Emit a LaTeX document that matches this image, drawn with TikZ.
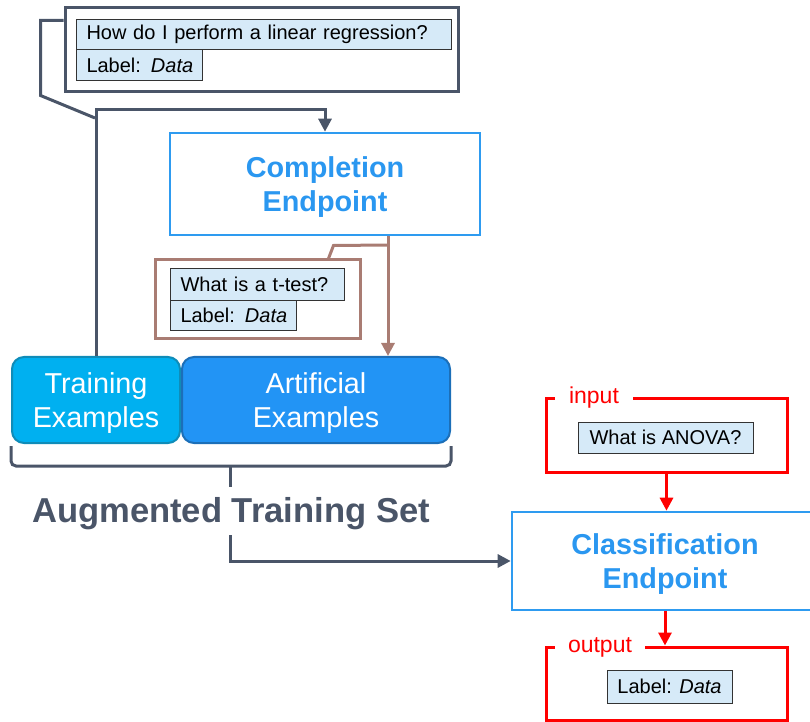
\documentclass[tikz,border=0pt]{standalone}
\usepackage{fontspec}
\setmainfont{Liberation Sans}
\usetikzlibrary{arrows.meta}
\definecolor{dk}{HTML}{4A5568}
\definecolor{qfill}{HTML}{D6EAF8}
\definecolor{qborder}{HTML}{333333}
\definecolor{bluetxt}{HTML}{2A97F0}
\definecolor{blueline}{HTML}{2E9BF0}
\definecolor{brn}{HTML}{A97C73}
\definecolor{trfill}{HTML}{00B0F0}
\definecolor{trline}{HTML}{0F8CB8}
\definecolor{arfill}{HTML}{2294F5}
\definecolor{arline}{HTML}{1C6FB8}
\definecolor{rd}{HTML}{FF0000}
\tikzset{
  tip/.style={-{Triangle[length=6.5pt,width=6.5pt]}},
  dkline/.style={draw=dk, line width=1.5pt},
  brnline/.style={draw=brn, line width=1.5pt},
  redline/.style={draw=rd, line width=1.5pt},
  qbox/.style={draw=qborder, fill=qfill, line width=0.5pt, font=\fontsize{10}{12}\selectfont,
    inner xsep=5pt, inner ysep=0pt, align=left},
  abox/.style={draw=qborder, fill=qfill, line width=0.5pt, font=\fontsize{10}{12}\selectfont,
    inner xsep=5pt, inner ysep=0pt, align=center},
  endpt/.style={draw=blueline, line width=1.3pt},
  endtxt/.style={text=bluetxt, align=center, yshift=-1.5pt,
    font=\fontsize{14.4}{17}\selectfont\bfseries},
  exbox/.style={rounded corners=6pt, line width=1pt},
  extxt/.style={text=white, align=center, yshift=-1.5pt,
    font=\fontsize{14.4}{17}\selectfont},
  redlab/.style={fill=white, text=rd, font=\fontsize{11.5}{13}\selectfont, inner ysep=1pt}
}
\begin{document}
\begin{tikzpicture}[x=0.5pt,y=-0.5pt]
\useasboundingbox (0,0) rectangle (810,722);

% top callout
\node[dkline, minimum width=196.5pt, minimum height=42pt, inner sep=0pt] (tq) at (261.5,50) {};
\node[qbox, text width=177.5pt, minimum height=15pt, anchor=north west] (q1) at (76,19) {How do I perform a linear regression?};
\node[qbox, text width=53pt, minimum height=15.5pt, anchor=north west] (q2) at (76,49) {\mbox{Label: \textit{Data}}};

% completion endpoint
\node[endpt, minimum width=155pt, minimum height=51pt,
  label={[endtxt]center:Completion\\Endpoint}] (comp) at (325,184) {};

% brown callout
\node[brnline, minimum width=102.5pt, minimum height=39.5pt, inner sep=0pt] (tb) at (257.5,299.5) {};
\node[qbox, text width=77pt, minimum height=16pt, anchor=north west] (t1) at (170,268) {What is a t-test?};
\node[qbox, text width=53pt, minimum height=15pt, anchor=north west] (t2) at (170,300) {\mbox{Label: \textit{Data}}};

% examples
\node[exbox, fill=trfill, draw=trline, minimum width=84pt, minimum height=43pt,
  label={[extxt]center:Training\\Examples}] (tr) at (96,400) {};
\node[exbox, fill=arfill, draw=arline, minimum width=134pt, minimum height=43pt,
  label={[extxt]center:Artificial\\Examples}] (art) at (316,400) {};

% coordinates
\coordinate (tl) at (95,110);
\coordinate (cp) at (95,118);
\coordinate (bx) at (388,0);
\coordinate (bc) at (388,245);
\coordinate (bm) at (230,465);
\coordinate (ac) at (230,535);

% connectors top
\draw[dkline, tip] (tr.north) -- (tr.north |- tl) -| (comp.north);
\draw[dkline] (tq.north west) ++(0,14) -- ++(-23,0) -- ++(0,75) -- (cp);

% brown connectors
\draw[brnline, tip] (comp.south -| bx) -- (art.north -| bx);
\draw[brnline] (tb.north east) ++(-33,0) -- ++(5,-13) -- (bc);

% brace
\draw[dkline, rounded corners=2.5pt] ([yshift=-1pt]tr.south west) -- ([yshift=-11pt]tr.south west) -- ([yshift=-11pt]art.south east) -- ([yshift=-1pt]art.south east);
\draw[dkline] (bm) -- ++(0,22);

\node[text=dk, font=\fontsize{17.3}{20}\selectfont\bfseries] (ats) at (231,514) {Augmented Training Set};

% classification
\node[endpt, minimum width=153pt, minimum height=49pt,
  label={[endtxt]center:Classification\\Endpoint}] (cls) at (665,561) {};
\draw[dkline, tip] (ac) |- (cls.west);

% input
\node[redline, minimum width=120.5pt, minimum height=37pt, inner sep=0pt] (inb) at (666.5,435) {};
\node[redlab, inner xsep=7pt] (inl) at (594,398) {input};
\node[abox, minimum width=87.5pt, minimum height=15.5pt] (anova) at (665.5,437.5) {What is ANOVA?};
\draw[redline, tip] (inb.south) -- (inb.south |- cls.north);

% output
\node[redline, minimum width=120.5pt, minimum height=36.5pt, inner sep=0pt] (outb) at (666.5,683.5) {};
\node[redlab, inner xsep=6.5pt] (outl) at (600,647) {output};
\node[abox, minimum width=62.5pt, minimum height=16.5pt] (lab) at (669.5,686.5) {Label: \textit{Data}};
\draw[redline, tip] (cls.south) -- (cls.south |- outb.north);
\end{tikzpicture}
\end{document}
